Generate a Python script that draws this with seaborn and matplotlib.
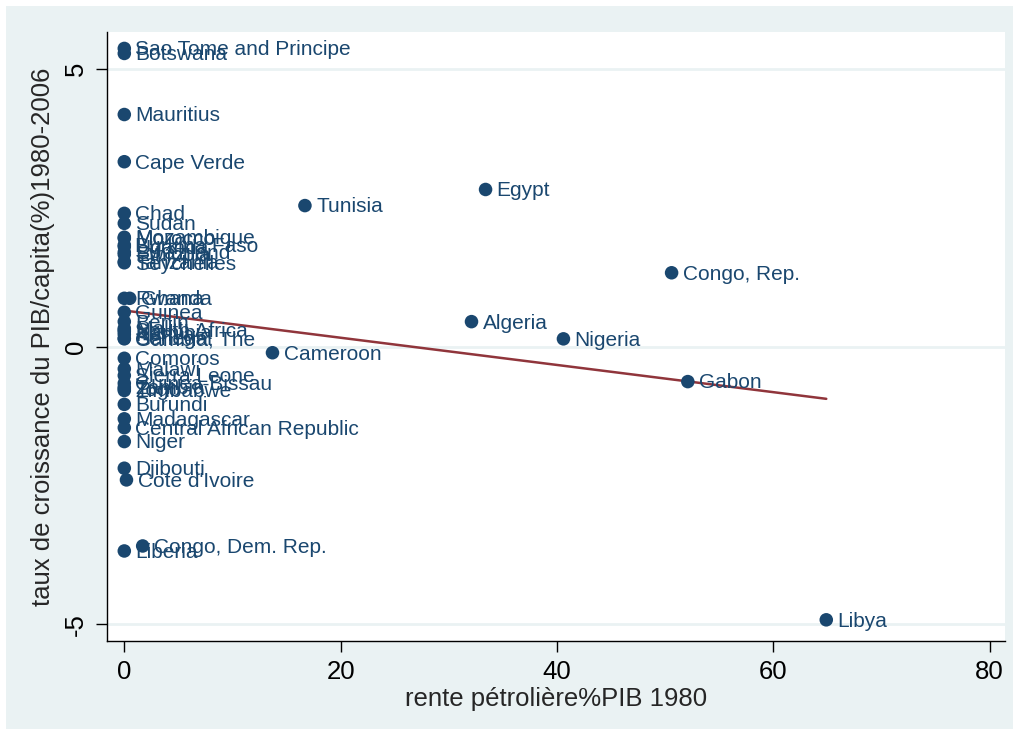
import numpy as np
import pandas as pd
import seaborn as sns
import matplotlib.pyplot as plt
from matplotlib.patches import Rectangle

# pays, rente petroliere (% PIB 1980), croissance PIB/capita 1980-2006
countries = ["Sao Tome and Principe", "Botswana", "Mauritius", "Cape Verde", "Chad", "Sudan",
             "Mozambique", "Morocco", "Burkina Faso", "Uganda", "Swaziland", "Ethiopia",
             "Tanzania", "Seychelles", "Egypt", "Tunisia", "Congo, Rep.", "Rwanda", "Ghana",
             "Guinea", "Benin", "Mali", "South Africa", "Namibia", "Kenya", "Senegal",
             "Gambia, The", "Algeria", "Nigeria", "Cameroon", "Comoros", "Malawi",
             "Sierra Leone", "Guinea-Bissau", "Zambia", "Togo", "Zimbabwe", "Burundi",
             "Madagascar", "Central African Republic", "Niger", "Djibouti", "Cote d'Ivoire",
             "Congo, Dem. Rep.", "Liberia", "Gabon", "Libya"]
rente = [0, 0, 0, 0, 0, 0,
         0, 0, 0, 0, 0, 0,
         0, 0, 33.4, 16.7, 50.6, 0, 0.5,
         0, 0, 0, 0, 0, 0, 0,
         0, 32.1, 40.6, 13.7, 0, 0,
         0, 0, 0, 0, 0, 0,
         0, 0, 0, 0, 0.2,
         1.7, 0, 52.1, 64.9]
croissance = [5.37, 5.28, 4.18, 3.33, 2.40, 2.22,
              1.97, 1.95, 1.83, 1.80, 1.70, 1.66,
              1.53, 1.51, 2.83, 2.54, 1.33, 0.87, 0.87,
              0.62, 0.45, 0.33, 0.30, 0.27, 0.22, 0.15,
              0.14, 0.45, 0.14, -0.11, -0.21, -0.40,
              -0.52, -0.66, -0.73, -0.76, -0.79, -1.04,
              -1.30, -1.46, -1.71, -2.19, -2.40,
              -3.59, -3.68, -0.63, -4.92]
# droite de regression
fit_intercept = 0.65
fit_slope = -0.0245

df = pd.DataFrame({"pays": countries, "rente": rente, "croissance": croissance})

navy = "#1a476f"
maroon = "#90353b"
bg = "#eaf2f3"

sns.set_style("white")
plt.rcParams['font.family'] = ['Liberation Sans', 'DejaVu Sans']

fig = plt.figure(figsize=(10.19, 7.35), dpi=100)
fig.patch.set_facecolor("white")
fig.patches.append(Rectangle((0.006, 0.008), 0.988, 0.984, transform=fig.transFigure,
                             facecolor=bg, edgecolor="none", zorder=-10))
ax = fig.add_axes([0.105, 0.128, 0.881, 0.828])
ax.set_facecolor("white")

for yv in [-5, 0, 5]:
    ax.axhline(yv, color=bg, lw=2, zorder=0)

sns.scatterplot(data=df, x="rente", y="croissance", color=navy, s=95,
                edgecolor="none", ax=ax, zorder=3)

xfit = np.array([min(rente), max(rente)])
sns.lineplot(x=xfit, y=fit_intercept + fit_slope * xfit, color=maroon, lw=1.8, ax=ax, zorder=2)

for _, r in df.iterrows():
    ax.annotate(r["pays"], (r["rente"], r["croissance"]), xytext=(8, -1),
                textcoords="offset points", va="center", ha="left",
                fontsize=15, color=navy, zorder=4)

ax.set_xlim(-1.6, 81.4)
ax.set_ylim(-5.3, 5.66)
ax.set_xticks([0, 20, 40, 60, 80])
ax.set_yticks([-5, 0, 5])
ax.set_yticklabels(["-5", "0", "5"], rotation=90, va="center")
ax.tick_params(axis="both", direction="out", length=8, width=1, colors="black",
               labelsize=18.5, pad=6)
ax.tick_params(axis="both", bottom=True, left=True)
for s in ["top", "right"]:
    ax.spines[s].set_visible(False)
for s in ["left", "bottom"]:
    ax.spines[s].set_color("black")
    ax.spines[s].set_linewidth(1)

ax.set_xlabel("rente pétrolière%PIB 1980", fontsize=18.5, labelpad=2)
ax.set_ylabel("taux de croissance du PIB/capita(%)1980-2006", fontsize=18.5, labelpad=6)

fig.savefig("out.png", dpi=100)
